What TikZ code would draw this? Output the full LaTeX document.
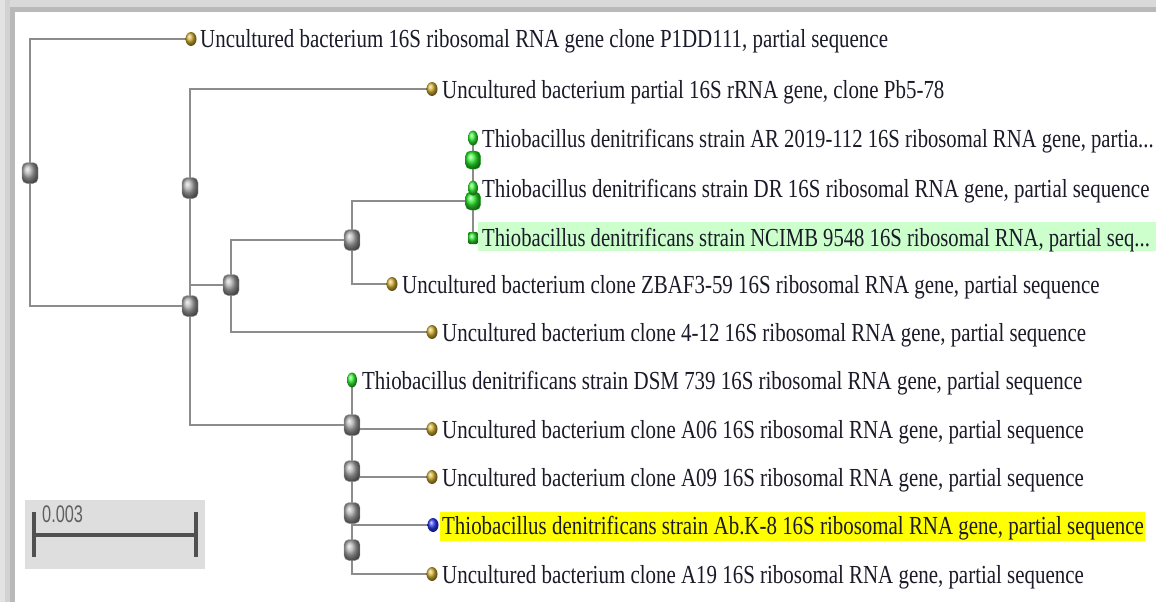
\documentclass[tikz,border=0pt]{standalone}
\usepackage{fontspec}
\setmainfont{Liberation Serif}
\newfontfamily\barfont{Liberation Sans}
\usetikzlibrary{shapes.geometric}
\pgfdeclarelayer{back}
\pgfdeclarelayer{bg}
\pgfdeclarelayer{hl}
\pgfsetlayers{back,hl,bg,main}
\definecolor{edgec}{HTML}{8C8C8C}
\definecolor{goldc}{HTML}{D0AC30}
\definecolor{greenc}{HTML}{30F030}
\definecolor{bluec}{HTML}{2838F0}
\definecolor{txtc}{HTML}{1A1A28}
\definecolor{hlgreen}{HTML}{CCFFCC}
\definecolor{hlyellow}{HTML}{FFFF00}
\definecolor{barbox}{HTML}{DEDEDE}
\definecolor{barc}{HTML}{505050}
\newcommand{\hs}{0.805}
\newcommand{\lbl}[1]{\scalebox{\hs}[1]{#1}}
\newcommand{\lblt}[1]{\scalebox{0.795}[1]{#1}}
\begin{document}
\begin{tikzpicture}[x=1pt,y=-1pt,
  edge/.style={draw=edgec, line width=2pt},
  inode/.style={rectangle, rounded corners=5pt, minimum width=16pt, minimum height=21pt, inner sep=0pt, shading=ball, ball color=gray!65, draw=gray!70, line width=0.3pt},
  gnode/.style={rectangle, rounded corners=5pt, minimum width=15pt, minimum height=18pt, inner sep=0pt, shading=ball, ball color=greenc, draw=green!70!black, line width=0.3pt},
  gleaf/.style={ellipse, minimum width=10pt, minimum height=15pt, inner sep=0pt, shading=ball, ball color=greenc},
  gsq/.style={rectangle, rounded corners=2pt, minimum width=10pt, minimum height=12pt, inner sep=0pt, shading=ball, ball color=greenc},
  yleaf/.style={ellipse, minimum width=11pt, minimum height=14pt, inner sep=0pt, shading=ball, ball color=goldc},
  bleaf/.style={ellipse, minimum width=11pt, minimum height=14pt, inner sep=0pt, shading=ball, ball color=bluec},
  lab/.style={anchor=base west, inner sep=0pt, font=\fontsize{26}{28}\selectfont, text=txtc},
]
\useasboundingbox (0,0) rectangle (1156,602);
% window frame
\begin{pgfonlayer}{back}
\fill[white] (0,0) rectangle (1156,602);
\fill[gray!30] (0,0) rectangle (1156,7);
\fill[gray!55] (0,7) rectangle (1156,12);
\fill[gray!22] (0,0) rectangle (5,602);
\fill[gray!35] (5,0) rectangle (10,602);
\fill[gray!55] (10,7) rectangle (15,602);
\end{pgfonlayer}

% internal nodes
\node[inode] (root) at (30,173) {};
\node[inode] (nA) at (190,188) {};
\node[inode] (nB) at (190,306) {};
\node[inode] (nC) at (231,285) {};
\node[inode] (nD) at (352,240) {};
\node[gnode] (gN1) at (473,160) {};
\node[gnode] (gN2) at (473,201) {};
\node[inode] (n3) at (352,425) {};
\node[inode] (n4) at (352,471) {};
\node[inode] (n5) at (352,513) {};
\node[inode] (n6) at (352,550) {};

% leaves
\node[yleaf] (l1) at (191,39) {};
\node[yleaf] (l2) at (432,89) {};
\node[gleaf] (lAR) at (473,138) {};
\node[gleaf] (lDR) at (473,188) {};
\node[gsq] (lNC) at (473,238) {};
\node[yleaf] (lZ) at (392,284) {};
\node[yleaf] (l412) at (432,332) {};
\node[gleaf] (lDSM) at (352,380) {};
\node[yleaf] (lA06) at (432,429) {};
\node[yleaf] (lA09) at (432,477) {};
\node[bleaf] (lAbK) at (433,525) {};
\node[yleaf] (lA19) at (432,574) {};

% highlights
\begin{pgfonlayer}{hl}
\fill[hlgreen] (478,222) rectangle (1156,251);
\fill[hlyellow] (440,512) rectangle (1145,541);
\end{pgfonlayer}

% labels
\node[lab] (t1) at (200,48) {\lbl{Uncultured bacterium 16S ribosomal RNA gene clone P1DD111, partial sequence}};
\node[lab] (t2) at (442,98) {\lbl{Uncultured bacterium partial 16S rRNA gene, clone Pb5-78}};
\node[lab] (tAR) at (482,147) {\lblt{Thiobacillus denitrificans strain AR 2019-112 16S ribosomal RNA gene, partia...}};
\node[lab] (tDR) at (482,197) {\lbl{Thiobacillus denitrificans strain DR 16S ribosomal RNA gene, partial sequence}};
\node[lab] (tNC) at (482,246) {\lblt{Thiobacillus denitrificans strain NCIMB 9548 16S ribosomal RNA, partial seq...}};
\node[lab] (tZ) at (402,293) {\lbl{Uncultured bacterium clone ZBAF3-59 16S ribosomal RNA gene, partial sequence}};
\node[lab] (t412) at (442,341) {\lbl{Uncultured bacterium clone 4-12 16S ribosomal RNA gene, partial sequence}};
\node[lab] (tDSM) at (362,389) {\lbl{Thiobacillus denitrificans strain DSM 739 16S ribosomal RNA gene, partial sequence}};
\node[lab] (tA06) at (442,438) {\lbl{Uncultured bacterium clone A06 16S ribosomal RNA gene, partial sequence}};
\node[lab] (tA09) at (442,486) {\lbl{Uncultured bacterium clone A09 16S ribosomal RNA gene, partial sequence}};
\node[lab] (tAbK) at (442,534) {\lbl{Thiobacillus denitrificans strain Ab.K-8 16S ribosomal RNA gene, partial sequence}};
\node[lab] (tA19) at (442,583) {\lbl{Uncultured bacterium clone A19 16S ribosomal RNA gene, partial sequence}};

% edges
\begin{pgfonlayer}{bg}
\draw[edge] (root.center) |- (l1.center);
\draw[edge] (root.center) |- (nB.center);
\draw[edge] (nA.center) |- (l2.center);
\draw[edge] (nA.center) -- (nB.center);
\draw[edge] (nB.center) |- (nC.center);
\draw[edge] (nB.center) |- (n3.center);
\draw[edge] (nC.center) |- (nD.center);
\draw[edge] (nC.center) |- (l412.center);
\draw[edge] (nD.center) |- (gN2.center);
\draw[edge] (nD.center) |- (lZ.center);
\draw[edge] (lAR.center) -- (gN1.center) -- (lDR.center) -- (gN2.center) -- (lNC.center);
\draw[edge] (lDSM.center) -- (n3.center) -- (n4.center) -- (n5.center) -- (n6.center);
\draw[edge] (n3.center) |- (lA06.center);
\draw[edge] (n4.center) |- (lA09.center);
\draw[edge] (n5.center) |- (lAbK.center);
\draw[edge] (n6.center) |- (lA19.center);
\end{pgfonlayer}

% scale bar
\node[fill=barbox, minimum width=180pt, minimum height=69pt, inner sep=0pt] (sbox) at (115,534.5) {};
\coordinate (sbl) at (34,535);
\coordinate (sbr) at (196,535);
\draw[barc, line width=4pt] (sbl) -- (sbr);
\draw[barc, line width=4pt] (34,512) -- (34,557);
\draw[barc, line width=4pt] (196,512) -- (196,557);
\node[anchor=base west, inner sep=0pt, text=gray!75!black, font=\barfont\fontsize{24}{26}\selectfont] (sl) at (42,522) {\scalebox{0.68}[1]{0.003}};
\end{tikzpicture}
\end{document}
